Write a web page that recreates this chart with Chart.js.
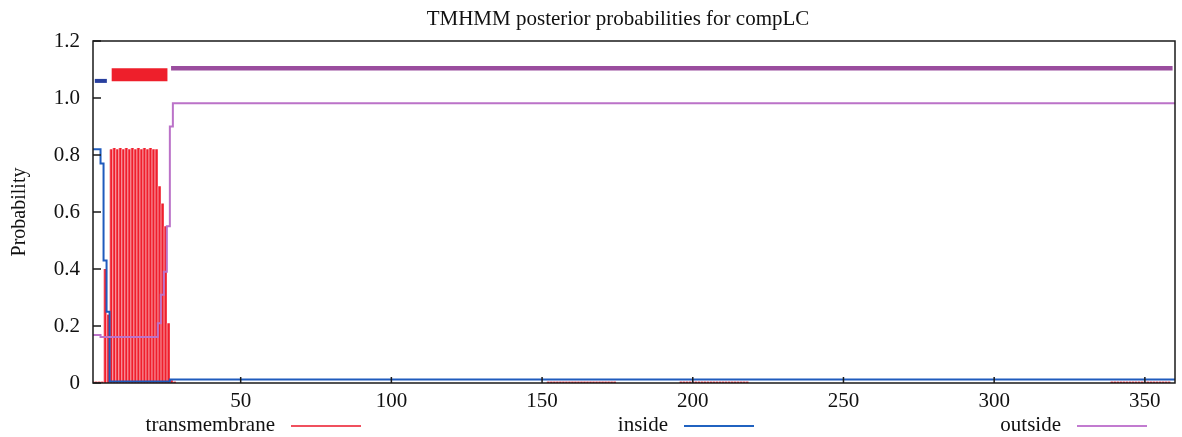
<!DOCTYPE html>
<html>
<head>
<meta charset="utf-8">
<title>TMHMM posterior probabilities for compLC</title>
<script src="https://cdn.jsdelivr.net/npm/chart.js@4.4.1/dist/chart.umd.min.js"></script>
<style>
html,body{margin:0;padding:0;background:#fff}
#wrap{position:relative;width:1182px;height:437px}
</style>
</head>
<body>
<div id="wrap"><canvas id="tmhmm"></canvas></div>
<script>
// axis ticks
const xTicks = [50,100,150,200,250,300,350]
const yTicks = [0,0.2,0.4,0.6,0.8,1.0,1.2]

// transmembrane posterior (drawn as impulses), residue -> probability
const tmPos = [1,2,3,4,5,6,7,8,9,10,11,12,13,14,15,16,17,18,19,20,21,22,23,24,25,26,27,28,
    152,153,154,155,156,157,158,159,160,161,162,163,164,165,166,167,168,169,170,171,172,173,174,
    196,197,198,199,200,201,202,203,204,205,206,207,208,209,210,211,212,213,214,215,216,217,218,
    339,340,341,342,343,344,345,346,347,348,349,350,351,352,353,354,355,356,357,358]
const tmProb = [0.005,0.005,0.005,0.005,0.40,0.24,0.82,0.825,0.82,0.825,0.82,0.825,0.82,0.825,0.82,0.825,0.82,0.825,0.82,0.825,0.82,0.82,0.69,0.63,0.55,0.21,0.01,0.005,
    0.005,0.005,0.005,0.005,0.005,0.005,0.005,0.005,0.005,0.005,0.005,0.005,0.005,0.005,0.005,0.005,0.005,0.005,0.005,0.005,0.005,0.005,0.005,
    0.005,0.005,0.005,0.005,0.005,0.005,0.005,0.005,0.005,0.005,0.005,0.005,0.005,0.005,0.005,0.005,0.005,0.005,0.005,0.005,0.005,0.005,0.005,
    0.005,0.005,0.005,0.005,0.005,0.005,0.005,0.005,0.005,0.005,0.005,0.005,0.005,0.005,0.005,0.005,0.005,0.005,0.005,0.005]

// inside posterior (step line, change points only)
const insideX = [1,3,4,5,6,7,26,27,360]
const insideY = [0.82,0.82,0.77,0.43,0.25,0.005,0.005,0.012,0.012]

// outside posterior
const outsideX = [1,3,4,22,23,24,25,26,27,28,360]
const outsideY = [0.168,0.168,0.161,0.161,0.21,0.31,0.39,0.55,0.90,0.982,0.982]

// predicted topology bars on top
const insideBarX = [1.6,5.6]
const insideBarY = 1.06
const tmBarX = [7.2,25.7]
const tmBarY = 1.082
const outsideBarX = [26.9,359.2]
const outsideBarY = 1.104

const legendItems = ['transmembrane','inside','outside']

const SERIF = '"Liberation Serif","Times New Roman",serif'

function pts(xs,ys){
    return xs.map((x,i)=>({x:x,y:Array.isArray(ys)?ys[i]:ys}))
}

// gnuplot-like frame, inward ticks, title and legend
const gnuplotLook = {
    id:'gnuplotLook',
    afterDatasetsDraw(chart){
        const c = chart.ctx
        const a = chart.chartArea
        const xs = chart.scales.x
        const ys = chart.scales.y
        c.save()
        c.strokeStyle = '#1a1a1a'
        c.lineWidth = 1.5
        c.strokeRect(a.left,a.top,a.right-a.left,a.bottom-a.top)
        c.beginPath()
        yTicks.forEach(v=>{
            const y = ys.getPixelForValue(v)
            c.moveTo(a.left,y)
            c.lineTo(a.left+8,y)
        })
        xTicks.forEach(v=>{
            const x = xs.getPixelForValue(v)
            c.moveTo(x,a.bottom)
            c.lineTo(x,a.bottom-6)
        })
        c.stroke()
        c.restore()
    },
    afterDraw(chart){
        const c = chart.ctx
        c.save()
        c.fillStyle = '#111'
        c.font = '21px '+SERIF
        c.textAlign = 'center'
        c.textBaseline = 'alphabetic'
        c.fillText('TMHMM posterior probabilities for compLC',618,25)

        const legendColors = ['#f0505e','#2062c0','#c27bd0']
        const lineStart = [291,684,1077]
        c.textAlign = 'right'
        legendItems.forEach((t,i)=>{
            c.fillStyle = '#111'
            c.fillText(t,lineStart[i]-16,431)
            c.strokeStyle = legendColors[i]
            c.lineWidth = 2
            c.beginPath()
            c.moveTo(lineStart[i],426)
            c.lineTo(lineStart[i]+70,426)
            c.stroke()
        })
        c.restore()
    }
}

const data = {
    datasets:[
        {
            type:'line',
            label:'outside',
            data:pts(outsideX,outsideY),
            borderColor:'#bb72c8',
            borderWidth:2,
            stepped:'middle',
            pointRadius:0,
            order:1
        },
        {
            type:'line',
            label:'inside',
            data:pts(insideX,insideY),
            borderColor:'#1f5bbd',
            borderWidth:2,
            stepped:'middle',
            pointRadius:0,
            order:1
        },
        {
            type:'line',
            label:'outside bar',
            data:pts(outsideBarX,outsideBarY),
            borderColor:'#9a4d9e',
            borderWidth:4.5,
            borderCapStyle:'butt',
            pointRadius:0,
            order:1
        },
        {
            type:'line',
            label:'tm bar',
            data:pts(tmBarX,tmBarY),
            borderColor:'#ee1f2b',
            borderWidth:13,
            borderCapStyle:'butt',
            pointRadius:0,
            order:1
        },
        {
            type:'line',
            label:'inside bar',
            data:pts(insideBarX,insideBarY),
            borderColor:'#283f9e',
            borderWidth:4,
            borderCapStyle:'butt',
            pointRadius:0,
            order:1
        },
        {
            type:'bar',
            label:'transmembrane',
            data:pts(tmPos,tmProb),
            backgroundColor:'#f01e2c',
            borderColor:'#f7a3ab',
            borderWidth:{left:1,right:0,top:0,bottom:0},
            borderSkipped:false,
            barPercentage:1,
            categoryPercentage:1,
            minBarLength:1,
            order:3
        }
    ]
}

const config = {
    type:'line',
    data:data,
    options:{
        responsive:true,
        maintainAspectRatio:false,
        animation:false,
        events:[],
        layout:{padding:{top:41,right:7,bottom:0,left:0}},
        plugins:{
            legend:{display:false},
            title:{display:false},
            tooltip:{enabled:false}
        },
        scales:{
            x:{
                type:'linear',
                min:1,
                max:360,
                offset:false,
                grid:{display:false},
                border:{display:false},
                ticks:{
                    color:'#111',
                    padding:-2,
                    font:{family:SERIF,size:21}
                },
                afterBuildTicks(s){ s.ticks = xTicks.map(v=>({value:v})) },
                afterFit(s){ s.height = 54 }
            },
            y:{
                type:'linear',
                min:0,
                max:1.2,
                grid:{display:false},
                border:{display:false},
                title:{
                    display:true,
                    text:'Probability',
                    color:'#111',
                    font:{family:SERIF,size:20},
                    padding:{top:8,bottom:0}
                },
                ticks:{
                    color:'#111',
                    padding:5,
                    font:{family:SERIF,size:21},
                    callback:(v)=> v===0 ? '0' : Number(v).toFixed(1)
                },
                afterBuildTicks(s){ s.ticks = yTicks.map(v=>({value:v})) },
                afterFit(s){ s.width = 93 }
            }
        }
    },
    plugins:[gnuplotLook]
}

const tmChart = new Chart(document.getElementById('tmhmm'),config)
</script>
</body>
</html>
